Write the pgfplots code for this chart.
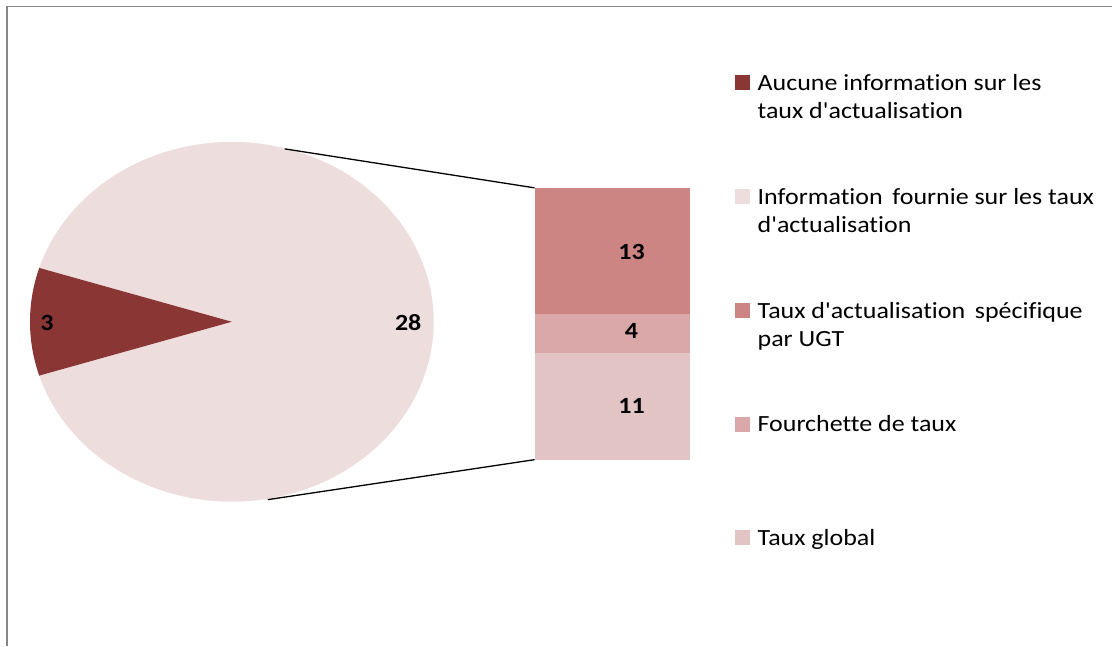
\documentclass[border=0pt]{standalone}
\usepackage{fontspec}
\newfontfamily\calibri{Carlito}[FakeStretch=1.12, Ligatures=NoCommon]
\usepackage{pgfplots}
\pgfplotsset{compat=1.18}
\definecolor{cdark}{RGB}{137,54,53}
\definecolor{clight}{RGB}{237,221,221}
\definecolor{cspec}{RGB}{205,133,131}
\definecolor{cfour}{RGB}{218,168,168}
\definecolor{cglob}{RGB}{226,196,197}
\definecolor{cframe}{RGB}{134,134,134}
\begin{document}
\begin{tikzpicture}[every node/.style={font=\calibri\fontsize{23.2pt}{28pt}\selectfont},
  lab/.style={anchor=base, font=\calibri\fontsize{23.2pt}{28pt}\selectfont\bfseries}]
% pie values
\def\va{3}\def\vb{28}
\pgfmathsetmacro\half{180*\va/(\va+\vb)}
\pgfmathsetmacro\aa{180-\half}
\pgfmathsetmacro\bb{180+\half}
\pgfmathsetmacro\cc{-180+\half}
% stacked bar (drawn first)
\begin{axis}[anchor=south west, at={(535pt,186pt)}, scale only axis,
  width=155pt, height=272pt, xmin=0, xmax=1, ymin=0, ymax=28,
  hide axis, clip=false, ybar stacked, bar width=155pt]
\addplot[fill=cglob, draw=none] coordinates {(0.5,11)};
\addplot[fill=cfour, draw=none] coordinates {(0.5,4)};
\addplot[fill=cspec, draw=none] coordinates {(0.5,13)};
\end{axis}
\begin{axis}[name=main, anchor=south west, at={(0pt,0pt)}, scale only axis,
  width=1113pt, height=646pt, xmin=0, xmax=1113, ymin=0, ymax=646,
  hide axis, clip=false]
\path (axis cs:0,0) rectangle (axis cs:1113,646);
% frame
\draw[line width=1.6pt, cframe] (axis cs:7,0) -- (axis cs:7,639.5) -- (axis cs:1113,639.5);
% pie
\fill[clight] (axis cs:232,324) -- ++(\cc:202pt and 180pt)
   arc[start angle=\cc, end angle=\aa, x radius=202pt, y radius=180pt] -- cycle;
\fill[cdark] (axis cs:232,324) -- ++(\aa:202pt and 180pt)
   arc[start angle=\aa, end angle=\bb, x radius=202pt, y radius=180pt] -- cycle;
\node[lab] at (axis cs:47,315) {\va};
\node[lab] at (axis cs:408.5,315) {\vb};
% connectors
\draw[line width=1.3pt, black] (axis cs:285,497) -- (axis cs:535,458);
\draw[line width=1.3pt, black] (axis cs:268,146) -- (axis cs:535,186);
% bar labels
\node[lab] at (axis cs:632,386) {13};
\node[lab] at (axis cs:632,307) {4};
\node[lab] at (axis cs:632,232) {11};
% legend
\fill[cdark] (axis cs:736,555.5) rectangle (axis cs:751,570.5);
\node[anchor=base west, inner sep=0pt] at (axis cs:758,555.3) {Aucune information sur les};
\node[anchor=base west, inner sep=0pt] at (axis cs:758,527.3) {taux d'actualisation};
\fill[clight] (axis cs:736,441.5) rectangle (axis cs:751,456.5);
\node[anchor=base west, inner sep=0pt] at (axis cs:758,441.5) {Information\ \,fournie sur les taux};
\node[anchor=base west, inner sep=0pt] at (axis cs:758,413.5) {d'actualisation};
\fill[cspec] (axis cs:736,327.7) rectangle (axis cs:751,342.7);
\node[anchor=base west, inner sep=0pt] at (axis cs:758,327.7) {Taux d'actualisation\ \,spécifique};
\node[anchor=base west, inner sep=0pt] at (axis cs:758,299.7) {par UGT};
\fill[cfour] (axis cs:736,214) rectangle (axis cs:751,229);
\node[anchor=base west, inner sep=0pt] at (axis cs:758,214) {Fourchette de taux};
\fill[cglob] (axis cs:736,100.2) rectangle (axis cs:751,115.2);
\node[anchor=base west, inner sep=0pt] at (axis cs:758,100.2) {Taux global};
\end{axis}
\end{tikzpicture}
\end{document}
